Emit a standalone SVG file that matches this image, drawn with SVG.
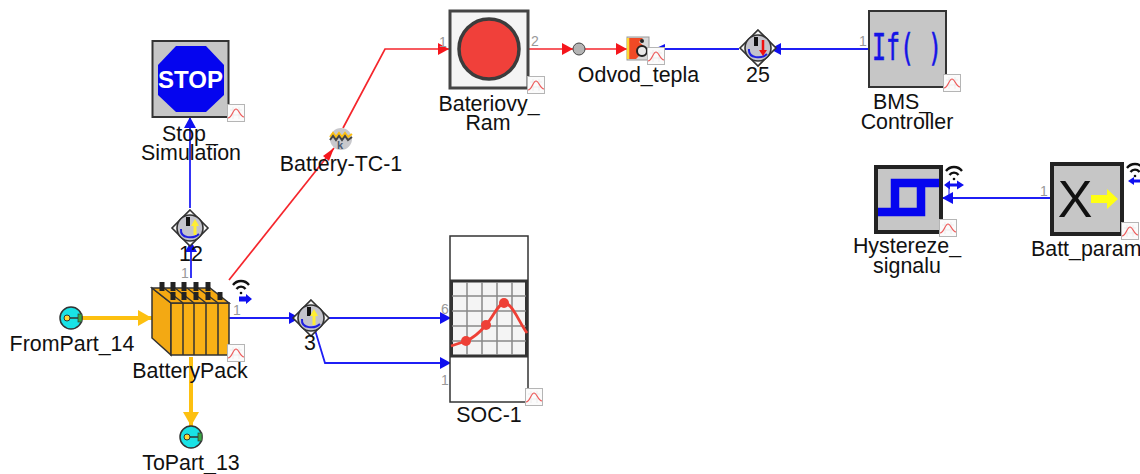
<svg xmlns="http://www.w3.org/2000/svg" xmlns:xlink="http://www.w3.org/1999/xlink" width="1140" height="474" viewBox="0 0 1140 474">
<style>
text{font-family:"Liberation Sans",Arial,sans-serif;fill:#111}
.lb{font-size:21.4px;text-anchor:middle}
.pn{font-size:14px;fill:#999}
.b{fill:none;stroke:#1f1ff5;stroke-width:1.8}
.r{fill:none;stroke:#f5262c;stroke-width:1.7}
.y{fill:none;stroke:#fdc010;stroke-width:4}
.box{fill:#c6c6c6;stroke:#333}
.thick{fill:#c6c6c6;stroke:#222}
</style>
<defs>
<marker id="ab" markerUnits="userSpaceOnUse" markerWidth="12" markerHeight="12" refX="11" refY="6" orient="auto"><path d="M0,0L11,6L0,12z" fill="#1010f0"/></marker>
<marker id="ar" markerUnits="userSpaceOnUse" markerWidth="12" markerHeight="12" refX="11" refY="6" orient="auto"><path d="M0,0L11,6L0,12z" fill="#f5161c"/></marker>
<marker id="ay" markerUnits="userSpaceOnUse" markerWidth="15" markerHeight="16" refX="14" refY="8" orient="auto"><path d="M0,0L14,8L0,16z" fill="#fdc010"/></marker>
<g id="plot"><rect x="0.5" y="0.5" width="17" height="17" fill="#fbfbfb" stroke="#b5b5b5"/><path d="M3,6H15M3,11H15M6,3V15M12,3V15" stroke="#e8e8e8" stroke-width=".7"/><path d="M1,14C5,14 6,5 9,5C12,5 13,13 17,13" fill="none" stroke="#ee5a5a" stroke-width="1.2"/></g>
<g id="gauge"><path d="M0,-18L18,0L0,18L-18,0z" fill="#f6f6f6" stroke="#333" stroke-width="1.6"/><circle r="13" fill="#c4c4cc" stroke="#333" stroke-width="1.6"/><path d="M-9,1C-10,11 4,11 9,6" fill="none" stroke="#2020e0" stroke-width="2"/><rect x="-4" y="-11" width="4" height="9" fill="#111"/></g>
<g id="wifi" fill="none" stroke="#111" stroke-width="2.300"><path d="M-8,-2A10,10 0 0 1 8,-2M-4.500,2A5.500,5.500 0 0 1 4.500,2"/><circle cy="6" r="1.300" fill="#111" stroke="none"/></g>
<g id="port"><circle r="11" fill="#19e3e6" stroke="#333" stroke-width="1.500"/><path d="M-4,0H8" stroke="#333" stroke-width="1.500"/><circle cx="-4" r="3" fill="#fdd835" stroke="#333"/><rect x="7" y="-4" width="4" height="8" fill="#39a845" stroke="#333" stroke-width=".7"/></g>
</defs>

<g id="connectors">
<path class="y" d="M82,318H152" marker-end="url(#ay)"/>
<path class="y" d="M191,357V426" marker-end="url(#ay)"/>
<path class="b" d="M191,278V241" marker-end="url(#ab)"/>
<path class="b" d="M190,208V117" marker-end="url(#ab)"/>
<path class="r" d="M229,280L334,148"/>
<path d="M323,156L334,148L329,161z" fill="#f5161c"/>
<path class="r" d="M343,128L385,49H449" marker-end="url(#ar)"/>
<path class="r" d="M529,49H573" marker-end="url(#ar)"/>
<path class="r" d="M585,49H627" marker-end="url(#ar)"/>
<path class="b" d="M869,49H770" marker-end="url(#ab)"/>
<path class="b" d="M739,49H665"/>
<path d="M654,49L665,44V54z" fill="#1010f0"/>
<path class="b" d="M229,318H300" marker-end="url(#ab)"/>
<path class="b" d="M322,318H451" marker-end="url(#ab)"/>
<path class="b" d="M315,330L325,363H451" marker-end="url(#ab)"/>
<path class="b" d="M1050,198H942" marker-end="url(#ab)"/>
</g>

<g id="Stop_Simulation">
<rect class="box" x="152.500" y="41" width="76" height="76" stroke-width="2"/>
<path d="M176,46H206L224,65V95L206,112H176L158,95V65z" fill="#0505ef"/>
<text x="190.500" y="88" font-size="24" font-weight="700" text-anchor="middle" style="fill:#fff">STOP</text>
<use href="#plot" x="227" y="104"/>
<text class="lb" x="162" y="141" style="text-anchor:start">Stop_</text>
<text class="lb" x="191" y="160">Simulation</text>
</g>

<g id="Gauge_12">
<use href="#gauge" x="190" y="228"/>
<path d="M195,226V235" stroke="#ffee33" stroke-width="3"/><path d="M191,226L195,219L199,226z" fill="#ffee33"/>
<text class="lb" x="191" y="261">12</text>
<text class="pn" x="181" y="278">1</text>
</g>

<g id="Battery-TC-1">
<circle cx="341" cy="139" r="11" fill="#c8c8cc"/>
<path d="M330,137L333,133L336,137L339,133L342,137L345,133L348,137L352,134" fill="none" stroke="#fdc010" stroke-width="2"/>
<path d="M330,140L333,136L336,140L339,136L342,140L345,136L348,140L352,137" fill="none" stroke="#444" stroke-width="2"/>
<text x="340" y="149" font-size="11" font-weight="700" text-anchor="middle" style="fill:#4a5a70">k</text>
<text class="lb" x="341" y="171">Battery-TC-1</text>
</g>

<g id="BatteryPack">
<path d="M171,303L152,288V338L171,355z" fill="#f3a913" stroke="#333" stroke-width="1.500"/>
<path d="M171,303H229V355H171z" fill="#f9b116" stroke="#333" stroke-width="1.500"/>
<path d="M152,288H210L229,303H171z" fill="#f5a912" stroke="#333" stroke-width="1.500"/>
<path d="M183,303V355M194,303V355M206,303V355M218,303V355M164,288L183,303M175,288L194,303M187,288L206,303M198,288L218,303" stroke="#333" stroke-width="1.500" fill="none"/>
<path d="M162,282V291M173,282V291M184,282V291M196,282V291M208,282V291M173,292V300M184,292V300M196,292V300M208,292V300M220,292V300" stroke="#222" stroke-width="5"/>
<use href="#plot" x="227" y="344"/>
<use href="#wifi" x="241" y="287"/>
<path d="M239,296.500H246V294L252,299L246,304V301.500H239z" fill="#1010f0"/>
<text class="pn" x="233" y="315">1</text>
<text class="lb" x="190" y="378">BatteryPack</text>
</g>

<g id="FromPart_14">
<use href="#port" x="71" y="318"/>
<text class="lb" x="72" y="351">FromPart_14</text>
</g>

<g id="ToPart_13">
<use href="#port" x="191" y="437"/>
<text class="lb" x="191" y="470">ToPart_13</text>
</g>

<g id="Gauge_3">
<use href="#gauge" x="311" y="318"/>
<path d="M314,316V325" stroke="#ffee33" stroke-width="3"/><path d="M310,316L314,309L318,316z" fill="#ffee33"/>
<text class="lb" x="310" y="350">3</text>
</g>

<g id="SOC-1">
<rect x="450" y="236" width="78" height="166" fill="#fff" stroke="#333" stroke-width="1.500"/>
<rect x="451.500" y="281" width="75" height="75" fill="#f4f4f4" stroke="#333" stroke-width="3"/>
<path d="M467,282V355M482,282V355M497,282V355M512,282V355M452,296H526M452,311H526M452,326H526M452,341H526" stroke="#888" stroke-width="1.500"/>
<path d="M451,346L466,341C474,338 480,332 486,325C494,316 498,303 505,303C512,303 519,322 527,333" fill="none" stroke="#ee4036" stroke-width="2.800"/>
<circle cx="466" cy="341" r="5" fill="#ee4036"/><circle cx="486" cy="325" r="5" fill="#ee4036"/><circle cx="504" cy="303" r="5" fill="#ee4036"/>
<text class="pn" x="441" y="314">6</text>
<text class="pn" x="441" y="385">1</text>
<use href="#plot" x="525" y="388"/>
<text class="lb" x="489" y="422">SOC-1</text>
</g>

<g id="Bateriovy_Ram">
<rect x="450" y="11" width="78" height="77" fill="#f4f4f4" stroke="#444" stroke-width="3"/>
<circle cx="489" cy="49" r="30" fill="#f0403a" stroke="#3c3c3c" stroke-width="3.500"/>
<text class="pn" x="439" y="47">1</text>
<text class="pn" x="531" y="46">2</text>
<use href="#plot" x="527" y="76"/>
<text class="lb" x="489" y="111">Bateriovy_</text>
<text class="lb" x="488" y="130">Ram</text>
</g>

<g id="Junction">
<circle cx="579" cy="49" r="6" fill="#b4b4b4" stroke="#444"/>
</g>

<g id="Odvod_tepla">
<rect x="627" y="37" width="22" height="23" fill="#d8d8d8" stroke="#999"/>
<path d="M628,38H643L639,42L644,46L637,50L640,55L636,59H628z" fill="#f04a25"/>
<path d="M628,38V59" stroke="#fdd835" stroke-width="2.500"/>
<circle cx="642" cy="51" r="5" fill="#e8e8e8" stroke="#222" stroke-width="2"/>
<circle cx="642" cy="41" r="2" fill="#222"/>
<use href="#plot" x="647" y="47"/>
<text class="lb" x="638.500" y="82">Odvod_tepla</text>
</g>

<g id="Gauge_25">
<use href="#gauge" x="758" y="48"/>
<path d="M763,40V52" stroke="#f01010" stroke-width="2.500"/><path d="M759,50L763,56L767,50z" fill="#f01010"/>
<text class="lb" x="758" y="82">25</text>
</g>

<g id="BMS_Controller">
<rect class="box" x="869" y="11" width="77" height="76" stroke-width="2"/>
<text x="872" y="60" font-size="38" textLength="70" lengthAdjust="spacingAndGlyphs" stroke="#1414e6" stroke-width=".6" style="font-family:'DejaVu Sans Mono',monospace;fill:#1414e6">If( )</text>
<text class="pn" x="859" y="46">1</text>
<use href="#plot" x="943" y="74"/>
<text class="lb" x="902" y="109">BMS_</text>
<text class="lb" x="907" y="129">Controller</text>
</g>

<g id="Hystereze_signalu">
<rect class="thick" x="876" y="167" width="65" height="65" stroke-width="4"/>
<path d="M878,212H921V183H939M895,212V183H921" fill="none" stroke="#0505ef" stroke-width="8.500"/>
<use href="#wifi" x="954" y="173"/>
<path d="M944,185L950,180.500V183.500H957V180.500L964,185L957,189.500V186.500H950V189.500z" fill="#1010f0"/>
<path d="M949,187V197" stroke="#1010f0"/>
<use href="#plot" x="939" y="219"/>
<text class="lb" x="907" y="253">Hystereze_</text>
<text class="lb" x="907" y="273">signalu</text>
</g>

<g id="Batt_param">
<rect class="thick" x="1052" y="164" width="70" height="70" stroke-width="4"/>
<text x="1075" y="217" font-size="52" text-anchor="middle">X</text>
<path d="M1091,195H1107V189L1118,199L1107,209V203H1091z" fill="#ffff14"/>
<text class="pn" x="1040" y="196">1</text>
<use href="#plot" x="1121" y="222"/>
<use href="#wifi" x="1135" y="170"/>
<path d="M1140,179.500H1134V177L1128,181L1134,185V182.500H1140z" fill="#1010f0"/>
<text class="lb" x="1031" y="256" style="text-anchor:start">Batt_param</text>
</g>
</svg>
